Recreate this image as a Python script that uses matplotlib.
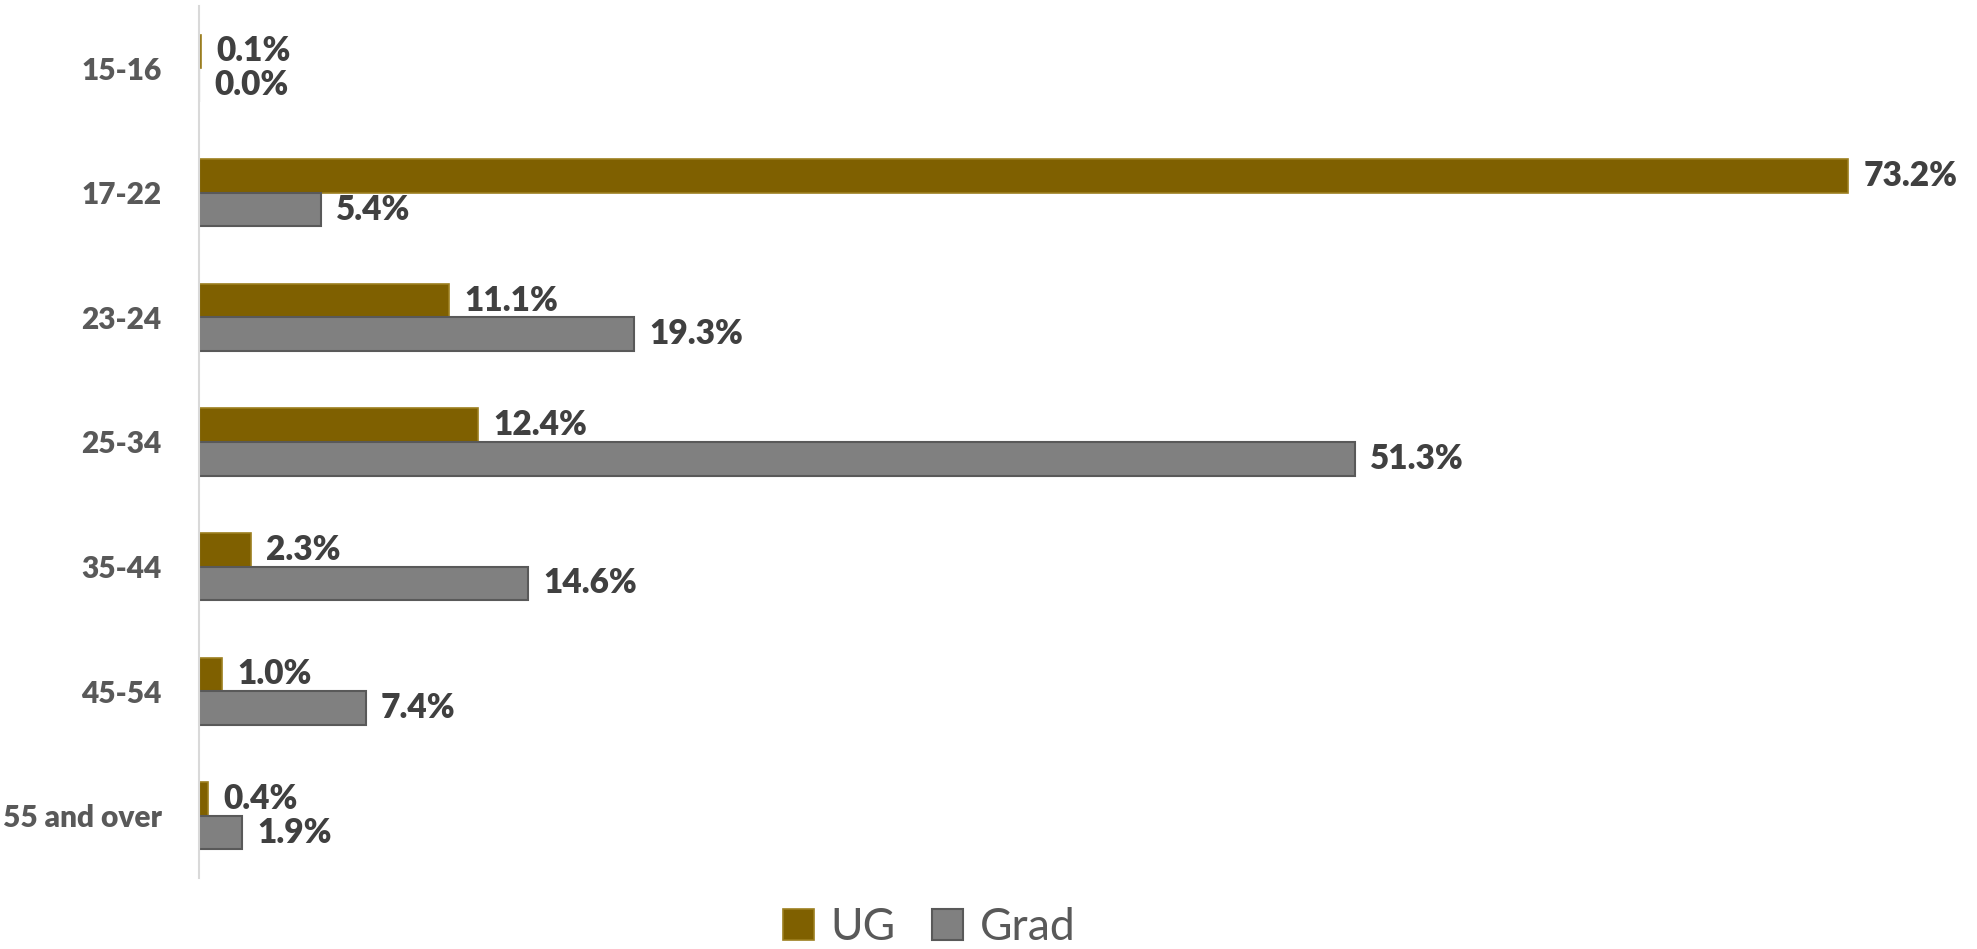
import matplotlib
matplotlib.use("Agg")
import matplotlib.pyplot as plt
import numpy as np

plt.rcParams['font.family'] = ['Lato', 'DejaVu Sans']

categories = ["15-16", "17-22", "23-24", "25-34", "35-44", "45-54", "55 and over"]
ug = [0.1, 73.2, 11.1, 12.4, 2.3, 1.0, 0.4]
grad = [0.0, 5.4, 19.3, 51.3, 14.6, 7.4, 1.9]

ug_color = "#7F6000"
grad_color = "#808080"
label_color = "#404040"
tick_color = "#595959"

fig = plt.figure(figsize=(19.77, 9.49), dpi=100)
ax = fig.add_axes([0.1007, 0.0748, 0.889, 0.9189])

y = np.arange(len(categories))
h = 0.27

b1 = ax.barh(y - h / 2, ug, height=h, color=ug_color, edgecolor="#9C7F1F",
             linewidth=1.2, label="UG")
b2 = ax.barh(y + h / 2, grad, height=h, color=grad_color, edgecolor="#595959",
             linewidth=1.5, label="Grad")

for bars, vals in ((b1, ug), (b2, grad)):
    for rect, v in zip(bars, vals):
        ax.annotate(f"{v:.1f}%",
                    xy=(rect.get_width(), rect.get_y() + rect.get_height() / 2),
                    xytext=(11, 0), textcoords="offset points",
                    ha="left", va="center", fontsize=24, fontweight="heavy",
                    color=label_color)

ax.set_xlim(0, 78)
ax.set_ylim(len(categories) - 0.5, -0.5)
ax.set_yticks(y)
ax.set_yticklabels(categories, fontsize=21.5, fontweight="heavy", color=tick_color)
ax.tick_params(axis="y", length=0, pad=27)
ax.set_xticks([])

for s in ("top", "right", "bottom"):
    ax.spines[s].set_visible(False)
ax.spines["left"].set_color("#D9D9D9")
ax.spines["left"].set_linewidth(1.5)

fig.legend(handles=[b1, b2], labels=["UG", "Grad"], loc="center",
           bbox_to_anchor=(0.47, 0.023), ncol=2, frameon=False,
           fontsize=32, labelcolor=tick_color,
           handlelength=0.7, handleheight=0.7,
           handletextpad=0.36, columnspacing=0.83)

fig.savefig("out.png", dpi=100)
